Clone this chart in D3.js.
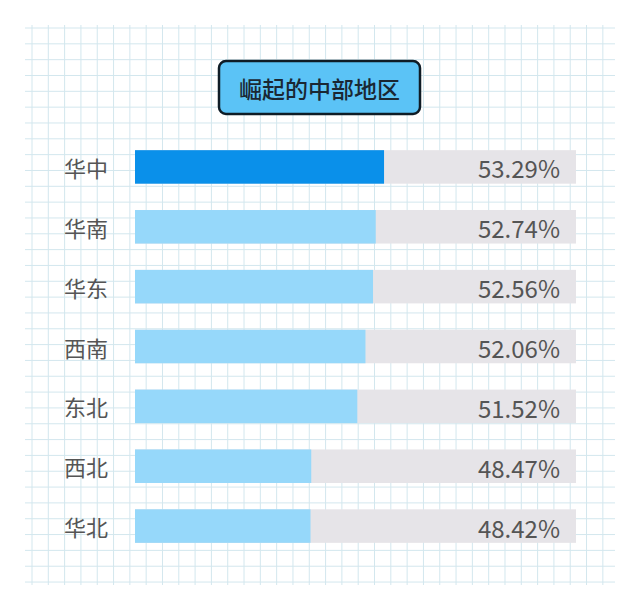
<!DOCTYPE html>
<html>
<head>
<meta charset="utf-8">
<script src="https://cdn.jsdelivr.net/npm/d3@7"></script>
<style>
  html, body { margin: 0; padding: 0; background: #ffffff; }
  svg { display: block; }
</style>
</head>
<body>
<svg id="chart" width="640" height="605"></svg>
<script>
const title = "崛起的中部地区";
const categories = ["华中", "华南", "华东", "西南", "东北", "西北", "华北"];
const values = [53.29, 52.74, 52.56, 52.06, 51.52, 48.47, 48.42];
const highlight = ["华中"];

const W = 640, H = 605;
const svg = d3.select("#chart");
const FONT = "'Noto Sans CJK SC', 'Noto Sans', sans-serif";

// grid paper background
const gx = d3.range(36).map(i => 32 + i * 16.31);
const gy = d3.range(36).map(i => 28 + i * 15.83);
const grid = svg.append("g").attr("stroke", "#d3e7ee").attr("stroke-width", 1);
grid.selectAll("line.v").data(gx).join("line")
  .attr("x1", d => d).attr("x2", d => d).attr("y1", 25).attr("y2", 585);
grid.selectAll("line.h").data(gy).join("line")
  .attr("y1", d => d).attr("y2", d => d).attr("x1", 25).attr("x2", 615);

// title box
svg.append("rect").attr("x", 219).attr("y", 61).attr("width", 201).attr("height", 53)
  .attr("rx", 7).attr("fill", "#5bc3f6").attr("stroke", "#0f1c26").attr("stroke-width", 2.5);
svg.append("text").attr("x", 319.5).attr("y", 88).attr("text-anchor", "middle")
  .attr("dominant-baseline", "central").attr("font-family", FONT).attr("font-size", 23)
  .attr("font-weight", 500).attr("fill", "#1a2733").text(title);

// scales
const x = d3.scaleLinear().domain([36.8, 66]).range([135, 576]);
const y = d3.scaleBand().domain(categories).range([137, 556]).paddingInner(0.44).paddingOuter(0.22);

const rows = svg.append("g").selectAll("g").data(categories).join("g");
rows.append("rect").attr("x", x(x.domain()[0])).attr("y", d => y(d))
  .attr("width", x(x.domain()[1]) - x(x.domain()[0])).attr("height", y.bandwidth())
  .attr("fill", "#e6e4e8");
rows.append("rect").attr("x", x(x.domain()[0])).attr("y", d => y(d))
  .attr("width", (d, i) => x(values[i]) - x(x.domain()[0])).attr("height", y.bandwidth())
  .attr("fill", d => highlight.includes(d) ? "#0a90ea" : "#96d8fa");
rows.append("text").attr("x", 108).attr("y", d => y(d) + y.bandwidth() / 2)
  .attr("text-anchor", "end").attr("dominant-baseline", "central")
  .attr("font-family", FONT).attr("font-size", 22).attr("fill", "#555555").text(d => d);
rows.append("text").attr("x", 560).attr("y", d => y(d) + y.bandwidth() / 2 + 1)
  .attr("text-anchor", "end").attr("dominant-baseline", "central")
  .attr("font-family", FONT).attr("font-size", 24).attr("fill", "#555555")
  .text((d, i) => values[i].toFixed(2) + "%");
</script>
</body>
</html>
